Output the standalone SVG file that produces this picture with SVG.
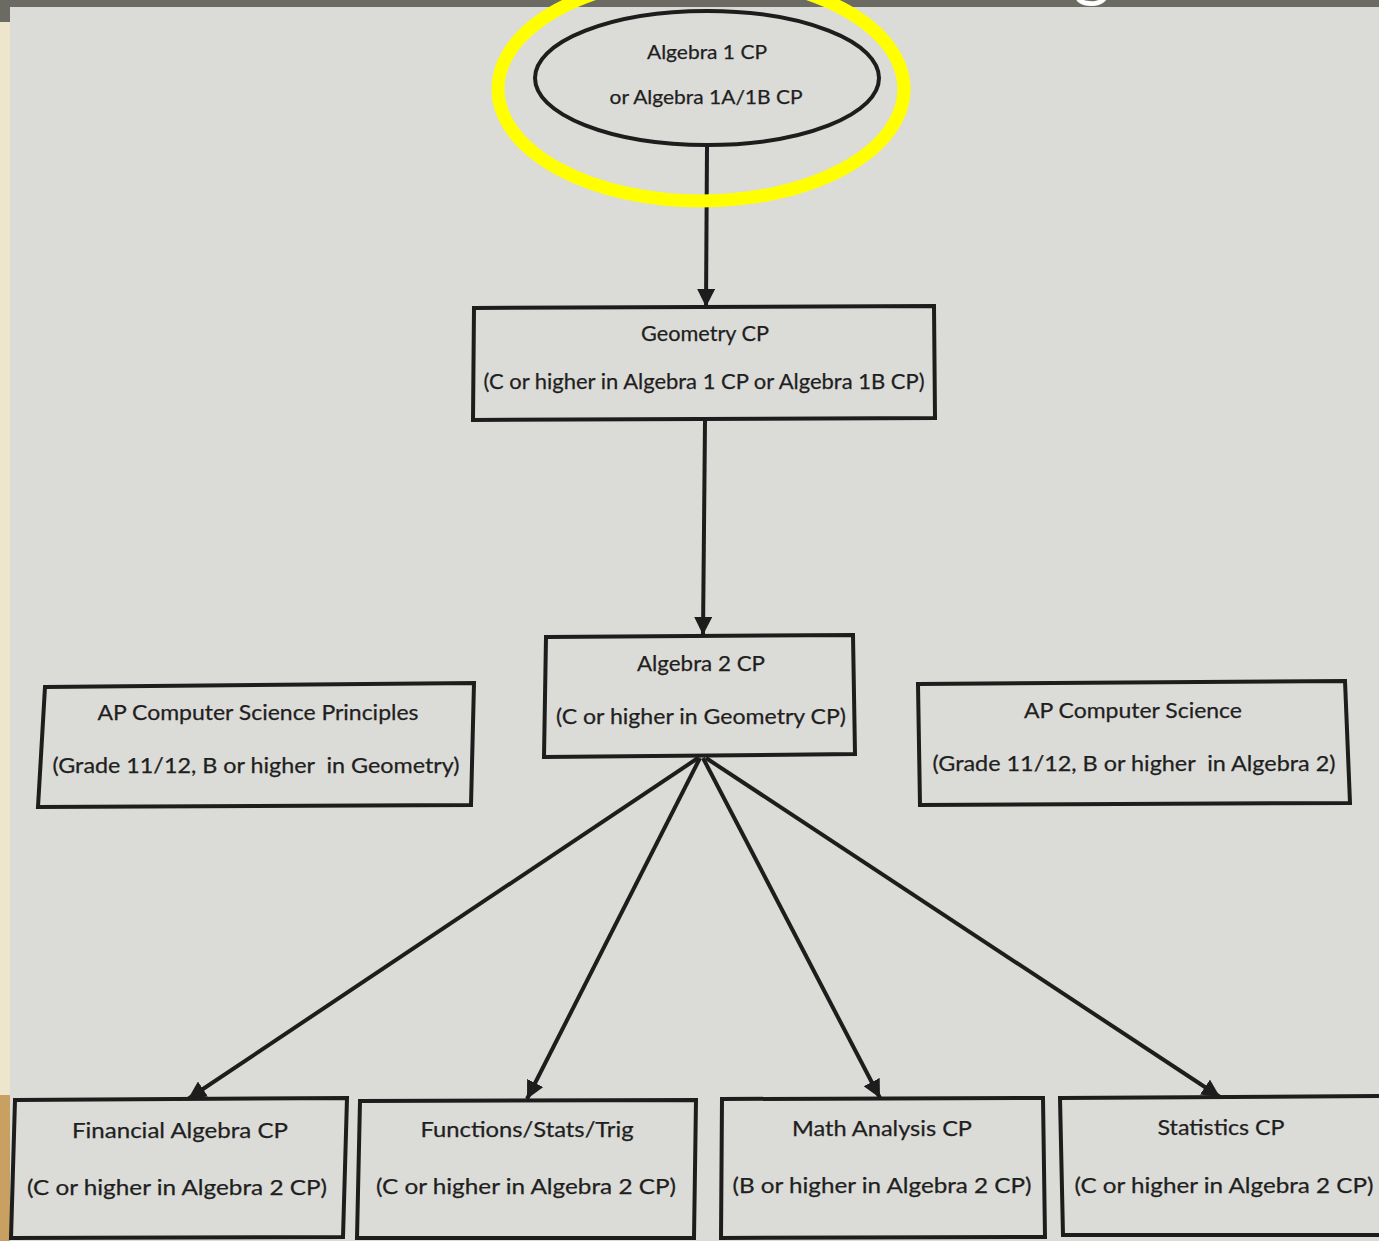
<svg xmlns="http://www.w3.org/2000/svg" width="1379" height="1241" viewBox="0 0 1379 1241">
<style>
.node{fill:none;stroke:#1d1d1d;stroke-width:4;stroke-linejoin:miter}
.t{font-family:Lato,"Open Sans","Liberation Sans",sans-serif;font-size:21px;fill:#1f1f1f;text-anchor:middle;white-space:pre;stroke:#1f1f1f;stroke-width:0.25}
.e{font-size:19px}
.conn line{stroke:#1d1d1d;stroke-width:4}
</style>
<defs>
<marker id="ah" markerUnits="userSpaceOnUse" markerWidth="20" markerHeight="18" refX="18" refY="9" orient="auto">
<path d="M0,0 L18,9 L0,18 Z" fill="#1d1d1d"/>
</marker>
</defs>
<rect x="0" y="0" width="1379" height="1241" fill="#dbdbd7"/>
<rect x="0" y="0" width="10" height="1241" fill="#ede6cc"/>
<rect x="0" y="1095" width="10" height="146" fill="#c7a062"/>
<rect x="0" y="0" width="1379" height="7" fill="#6c6b63"/>
<rect x="0" y="0" width="10" height="22" fill="#6c6b63"/>
<text x="1092" y="-7" font-family="Lato,'Open Sans',sans-serif" font-size="72" fill="#ffffff" text-anchor="middle">g</text>

<g class="conn">
<line x1="707" y1="147" x2="706" y2="307" marker-end="url(#ah)"/>
<line x1="705" y1="421" x2="703" y2="635" marker-end="url(#ah)"/>
<line x1="698" y1="758" x2="188" y2="1099" marker-end="url(#ah)"/>
<line x1="700" y1="758" x2="527" y2="1099" marker-end="url(#ah)"/>
<line x1="703" y1="758" x2="880" y2="1098" marker-end="url(#ah)"/>
<line x1="706" y1="758" x2="1220" y2="1097" marker-end="url(#ah)"/>
</g>

<g id="algebra1">
<ellipse class="node" cx="707" cy="78" rx="172" ry="67" stroke-width="3.5"/>
<text class="t e" x="707" y="59" textLength="120" lengthAdjust="spacingAndGlyphs">Algebra 1 CP</text>
<text class="t e" x="706" y="104" textLength="193" lengthAdjust="spacingAndGlyphs">or Algebra 1A/1B CP</text>
</g>

<g id="highlight">
<ellipse cx="701" cy="89" rx="203" ry="112" fill="none" stroke="#ffff00" stroke-width="13"/>
</g>

<g id="geometry">
<polygon class="node" points="474,308 934,306 935,418 473,420"/>
<text class="t" x="705" y="341" textLength="128" lengthAdjust="spacingAndGlyphs">Geometry CP</text>
<text class="t" x="704" y="389" textLength="441" lengthAdjust="spacingAndGlyphs">(C or higher in Algebra 1 CP or Algebra 1B CP)</text>
</g>

<g id="algebra2">
<polygon class="node" points="546,637 853,635 855,754 544,757"/>
<text class="t" x="701" y="671" textLength="128" lengthAdjust="spacingAndGlyphs">Algebra 2 CP</text>
<text class="t" x="701" y="724" textLength="290" lengthAdjust="spacingAndGlyphs">(C or higher in Geometry CP)</text>
</g>

<g id="apcsp">
<polygon class="node" points="45,687 474,683 471,805 38,807"/>
<text class="t" x="258" y="720" textLength="321" lengthAdjust="spacingAndGlyphs">AP Computer Science Principles</text>
<text class="t" x="256" y="773" textLength="407" lengthAdjust="spacingAndGlyphs">(Grade 11/12, B or higher  in Geometry)</text>
</g>

<g id="apcs">
<polygon class="node" points="918,684 1345,681 1350,803 920,805"/>
<text class="t" x="1133" y="718" textLength="218" lengthAdjust="spacingAndGlyphs">AP Computer Science</text>
<text class="t" x="1134" y="771" textLength="403" lengthAdjust="spacingAndGlyphs">(Grade 11/12, B or higher  in Algebra 2)</text>
</g>

<g id="financial">
<polygon class="node" points="15,1100 347,1098 343,1237 11,1238"/>
<text class="t" x="180" y="1138" textLength="216" lengthAdjust="spacingAndGlyphs">Financial Algebra CP</text>
<text class="t" x="177" y="1195" textLength="300" lengthAdjust="spacingAndGlyphs">(C or higher in Algebra 2 CP)</text>
</g>

<g id="functions">
<polygon class="node" points="360,1101 696,1100 694,1238 357,1238"/>
<text class="t" x="527" y="1137" textLength="213" lengthAdjust="spacingAndGlyphs">Functions/Stats/Trig</text>
<text class="t" x="526" y="1194" textLength="300" lengthAdjust="spacingAndGlyphs">(C or higher in Algebra 2 CP)</text>
</g>

<g id="mathanalysis">
<polygon class="node" points="722,1099 1043,1098 1045,1237 721,1238"/>
<text class="t" x="882" y="1136" textLength="180" lengthAdjust="spacingAndGlyphs">Math Analysis CP</text>
<text class="t" x="882" y="1193" textLength="299" lengthAdjust="spacingAndGlyphs">(B or higher in Algebra 2 CP)</text>
</g>

<g id="statistics">
<polygon class="node" points="1060,1098 1390,1096 1390,1235 1063,1235"/>
<text class="t" x="1221" y="1135" textLength="127" lengthAdjust="spacingAndGlyphs">Statistics CP</text>
<text class="t" x="1224" y="1193" textLength="299" lengthAdjust="spacingAndGlyphs">(C or higher in Algebra 2 CP)</text>
</g>
</svg>
